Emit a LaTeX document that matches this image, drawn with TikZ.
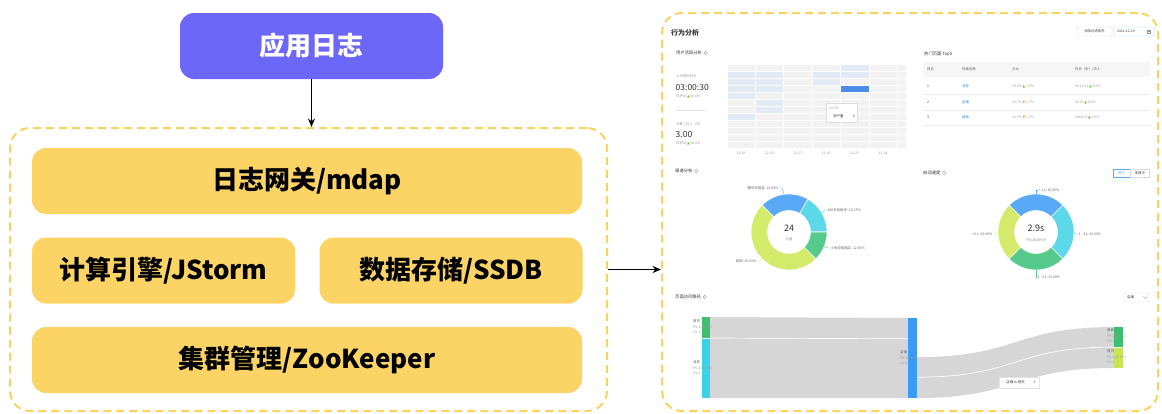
\documentclass[tikz,border=0pt]{standalone}
\usepackage{fontspec}
\setmainfont{Noto Sans CJK SC}
\newfontfamily\symfont{DejaVu Sans}
\usetikzlibrary{arrows.meta,positioning,calc,backgrounds}

\definecolor{appblue}{HTML}{6D67F9}
\definecolor{boxyellow}{HTML}{FCD465}
\definecolor{dashyellow}{HTML}{FAD35E}
\definecolor{segblue}{HTML}{5AA9F7}
\definecolor{segcyan}{HTML}{5CD8E9}
\definecolor{seggreen}{HTML}{55CA8B}
\definecolor{seglime}{HTML}{D4EA6B}
\definecolor{heatlight}{HTML}{E2EAF6}
\definecolor{heatgray}{HTML}{F2F2F2}
\definecolor{heatstrong}{HTML}{4C8DEA}
\definecolor{linkgray}{HTML}{D6D6D6}
\definecolor{txtdark}{HTML}{333333}
\definecolor{txtgray}{HTML}{999999}
\definecolor{upgreen}{HTML}{52C41A}
\definecolor{downorange}{HTML}{FA8C16}
\definecolor{linkblue}{HTML}{2F80D6}
\definecolor{barblue}{HTML}{3A9AF5}
\definecolor{bargreen}{HTML}{3CBF6F}
\definecolor{barcyan}{HTML}{38D3E7}
\definecolor{barlime}{HTML}{C9E552}

\newcommand{\upmark}{{\color{upgreen}\symfont ▲}}
\newcommand{\downmark}{{\color{downorange}\symfont ▼}}

\begin{document}
\begin{tikzpicture}[x=1pt, y=-1pt, >={Stealth[length=8.5pt, width=7pt]},
    layer/.style={fill=boxyellow, rounded corners=14pt, minimum height=66pt, inner sep=0pt, font=\bfseries\fontsize{26}{30}\selectfont},
    dashframe/.style={draw=dashyellow, line width=2pt, dash pattern=on 8pt off 5pt, rounded corners=20pt, inner sep=0pt},
    lbl/.style={inner sep=0pt, text=txtgray, font=\fontsize{3.4}{5.5}\selectfont},
    sec/.style={inner sep=0pt, anchor=west, text=txtdark, font=\fontsize{4.3}{5}\selectfont},
    info/.style={draw=txtgray, circle, inner sep=0pt, minimum size=3.6pt, line width=0.3pt, text=txtgray, font=\fontsize{2.6}{3}\selectfont},
    bar/.style={minimum width=8pt, inner sep=0pt, outer sep=0pt},
    bignum/.style={inner sep=0pt, text=txtdark, font=\fontsize{9}{10}\selectfont}]
\begin{scope}[on background layer]
  \fill[white] (0,0) rectangle (1162,413);
\end{scope}
\useasboundingbox (0,0) rectangle (1162,413);

% architecture
\node[fill=appblue, rounded corners=14pt, minimum width=263pt, minimum height=66pt, text=white,
      font=\bfseries\fontsize{26}{30}\selectfont] (app) at (311.5,46) {应用日志};
\node[dashframe, minimum width=597pt, minimum height=283pt] (platform) at (308.5,269.5) {};
\node[layer, minimum width=550pt] (gateway) at (307,181) {日志网关/mdap};
\node[layer, minimum width=263pt] (jstorm) at (163.5,270.5) {计算引擎/JStorm};
\node[layer, minimum width=263pt] (ssdb) at (451,270.5) {数据存储/SSDB};
\node[layer, minimum width=550pt] (zookeeper) at (307,360) {集群管理/ZooKeeper};
\node[dashframe, minimum width=496pt, minimum height=398pt] (dashboard) at (910,212) {};

\draw[->, line width=1.2pt] (app.south) -- (app.south |- platform.north);
\draw[->, line width=1.2pt] (platform.east) -- (platform.east -| dashboard.west);

% dashboard header
\node[anchor=west, inner sep=0pt, text=txtdark, font=\bfseries\fontsize{7}{8}\selectfont] (title) at (671,33) {行为分析};
\node[draw=gray!30, lbl, text=txtdark, minimum width=35pt, minimum height=9pt, rounded corners=1pt] (filter) at (1094.5,31.5) {添加过滤条件};
\node[draw=segblue!45, minimum width=41pt, minimum height=9pt, rounded corners=1pt, inner sep=0pt] (datebox) at (1134,31.5) {};
\node[lbl, text=txtdark, anchor=west] (datetext) at (1117,31.5) {2021-12-29};
\draw[txtgray, line width=0.35pt] (1147,29.8) rectangle (1150.5,33.3);
\draw[txtgray, line width=0.35pt] (1147,30.8) -- (1150.5,30.8);

% user activity
\node[sec] (active) at (676,53) {用户活跃分析};
\node[info, right=1.5pt of active] (activeinfo) {i};
\node[lbl, anchor=west] (durlabel) at (676,76) {人均使用时长};
\node[bignum, anchor=west, font=\fontsize{8.5}{10}\selectfont] (duration) at (675.5,87) {03:00:30};
\node[lbl, anchor=west] (durrate) at (676,96) {日环比 \upmark{} 60.6\%};
\draw[gray!25, line width=0.4pt] (676,110) -- (705,110);
\node[lbl, anchor=west] (cntlabel) at (676,124) {次数 / 日人（次）};
\node[bignum, anchor=west, font=\fontsize{8.5}{10}\selectfont] (count) at (675.5,134) {3.00};
\node[lbl, anchor=west] (cntrate) at (676,143) {日环比 \upmark{} 60.6\%};

\foreach \cx in {0,...,5}
  \foreach \ry in {0,...,11}
    \fill[heatgray] ({727.5+28.4*\cx},{64.5+7*\ry}) rectangle +(27.4,6);
\foreach \ry in {0,...,11}
  \fill[heatgray] (898.4,{64.5+7*\ry}) rectangle +(8,6);
\foreach \cx/\ry in {4/0,0/1,1/1,3/1,4/1,0/2,1/2,3/2,0/3,1/3,0/4,1/5,1/6,0/7}
  \fill[heatlight] ({727.5+28.4*\cx},{64.5+7*\ry}) rectangle +(27.4,6);
\fill[heatstrong] ({727.5+28.4*4},{64.5+7*3}) rectangle +(27.4,6);
\foreach \d [count=\i from 0] in {12-29,12-28,12-27,12-26,12-25,12-24}
  \node[lbl] (day\i) at ({741+28.4*\i},153) {\d};

\node[draw=gray!25, fill=white, minimum width=31pt, minimum height=19pt, inner sep=0pt] (heattip) at (841.5,112.5) {};
\node[lbl, anchor=west] (tipdate) at (829,108) {12-26};
\node[lbl, anchor=west, text=txtdark] (tipname) at (829,116.5) {{\color{heatstrong}·} 用户量};
\node[lbl, anchor=east, text=txtdark] (tipvalue) at (855,116.5) {0};

% top pages
\node[sec] (top5) at (924,54) {热门页面 Top5};
\fill[gray!7] (923,62) rectangle (1150,77);
\node[lbl, anchor=west, text=txtdark!80] (hrank) at (927,69.5) {排名};
\node[lbl, anchor=west, text=txtdark!80] (hpage) at (962,69.5) {页面名称};
\node[lbl, anchor=west, text=txtdark!80] (hpct) at (1012,69.5) {占比};
\node[lbl, anchor=west, text=txtdark!80] (htime) at (1075,69.5) {时长（秒）/次人};
\foreach \y/\rk/\pg/\pct/\tm [count=\i] in {
    86/1/消息/{33.3\% \upmark{} 2.9\%}/{60:12:21 \upmark{} 0.0\%},
    102/2/店铺/{16.7\% \downmark{} 1.7\%}/{00:00 \upmark{} 0.0\%},
    117/3/搜索/{16.7\% \downmark{} 1.7\%}/{4840.00 \upmark{} 0.0\%}} {
  \node[lbl, anchor=west, text=txtdark] (rank\i) at (927,\y) {\rk};
  \node[lbl, anchor=west, text=linkblue] (page\i) at (962,\y) {\pg};
  \node[lbl, anchor=west] (pct\i) at (1012,\y) {\pct};
  \node[lbl, anchor=west] (time\i) at (1075,\y) {\tm};
  \draw[gray!15, line width=0.4pt] (923,{\y+8}) -- (1150,{\y+8});
}

% channels
\node[sec] (channel) at (675,171) {渠道分布};
\node[info, right=1.5pt of channel] (channelinfo) {i};
\begin{scope}[shift={(789,232)}, yscale=-1]
  \foreach \a/\b/\col in {135/60/segblue, 60/0/segcyan, 0/-45/seggreen, -45/-225/seglime}
    \filldraw[fill=\col, draw=white, line width=0.6pt] (\a:38) arc[start angle=\a, end angle=\b, radius=38]
      -- (\b:21.5) arc[start angle=\b, end angle=\a, radius=21.5] -- cycle;
\end{scope}
\node[bignum] (total) at (789,228) {24};
\node[lbl] (totallabel) at (789,239.5) {总量};
\draw[segblue, line width=0.4pt] (784,194) -- (782,188) -- (779,188);
\node[lbl, anchor=east, text=txtdark!80] (tencent) at (778.5,188) {腾讯应用宝: 20.83\%};
\draw[segcyan, line width=0.4pt] (822,213) -- (825,210) -- (827,210);
\node[lbl, anchor=west, text=txtdark!80] (qihoo) at (827.5,210) {360手机助手: 16.67\%};
\draw[seggreen, line width=0.4pt] (824,246.5) -- (828,248) -- (830,248);
\node[lbl, anchor=west, text=txtdark!80] (xiaomi) at (830.5,248) {小米应用商店: 12.50\%};
\draw[seglime, line width=0.4pt] (762,259) -- (759,261) -- (757,261);
\node[lbl, anchor=east, text=txtdark!80] (others) at (756.5,261) {其他: 50.00\%};

% launch speed
\node[sec] (speed) at (923,173) {启动速度};
\node[info, right=1.5pt of speed] (speedinfo) {?};
\node[draw=segblue, lbl, text=segblue, minimum width=17pt, minimum height=8pt] (first) at (1121.5,173) {首次};
\node[draw=gray!30, lbl, text=txtdark, minimum width=19pt, minimum height=8pt, right=0pt of first] (notfirst) {非首次};
\begin{scope}[shift={(1036,232)}, yscale=-1]
  \foreach \a/\b/\col in {135/45/segblue, 45/-45/segcyan, -45/-135/seggreen, -135/-225/seglime}
    \filldraw[fill=\col, draw=white, line width=0.6pt] (\a:38) arc[start angle=\a, end angle=\b, radius=38]
      -- (\b:21.5) arc[start angle=\b, end angle=\a, radius=21.5] -- cycle;
\end{scope}
\node[bignum] (avgtime) at (1036,228) {2.9s};
\node[lbl] (avglabel) at (1036,240) {平均启动时间};
\draw[segblue, line width=0.4pt] (1036,194) -- (1036,190) -- (1038,190);
\node[lbl, anchor=west, text=txtdark!80] (fast) at (1038.5,190) {< 1 s: 25.00\%};
\draw[segcyan, line width=0.4pt] (1074,232) -- (1076,234) -- (1078,234);
\node[lbl, anchor=west, text=txtdark!80] (medium) at (1078.5,234) {1 - 3 s: 25.00\%};
\draw[seggreen, line width=0.4pt] (1036,270) -- (1036,277) -- (1037,277);
\node[lbl, anchor=west, text=txtdark!80] (slow) at (1037.5,277) {3 - 5 s: 25.00\%};
\draw[seglime, line width=0.4pt] (998,232) -- (995,234) -- (993,234);
\node[lbl, anchor=east, text=txtdark!80] (veryslow) at (992.5,234) {> 5 s: 25.00\%};

% page paths
\node[sec] (path) at (675,297) {页面访问路径};
\node[info, right=1.5pt of path] (pathinfo) {i};
\node[draw=gray!30, minimum width=25pt, minimum height=9pt, rounded corners=1pt, inner sep=0pt] (pagesel) at (1136.5,297.5) {};
\node[lbl, anchor=west, text=txtdark] (pageseltext) at (1127,297.5) {店铺};
\draw[txtgray, line width=0.35pt] (1143,296.5) -- (1145,298.5) -- (1147,296.5);

\node[bar, fill=bargreen, minimum height=21pt] (srchome) at (706,327.5) {};
\node[bar, fill=barcyan, minimum height=59pt] (srcmsg) at (706,368.5) {};
\node[bar, fill=barblue, minimum width=9pt, minimum height=80pt] (shop) at (912.5,358) {};
\node[bar, fill=bargreen, minimum width=9pt, minimum height=20pt] (dstsearch) at (1118.5,337) {};
\node[bar, fill=barlime, minimum width=9pt, minimum height=20pt] (dsthome) at (1118.5,358) {};

\begin{scope}[on background layer]
  \fill[linkgray] (srchome.north east) -- (shop.north west) -- (shop.south west) -- (srcmsg.south east) -- cycle;
  \draw[white, line width=0.7pt] (srchome.south east) -- ($(shop.north west)!0.26!(shop.south west)$);
  \coordinate (out1) at ($(shop.north east)!0.49!(shop.south east)$);
  \coordinate (out2) at ($(shop.north east)!0.74!(shop.south east)$);
  \fill[linkgray] (out1) .. controls +(100,0) and +(-100,0) .. (dstsearch.north west)
    -- (dsthome.south west) .. controls +(-100,0) and +(100,0) .. (shop.south east) -- cycle;
  \draw[white, line width=0.7pt] (out2) .. controls +(100,0) and +(-100,0) .. (dstsearch.south west);
\end{scope}

\node[lbl, anchor=north west, align=left] (homelabel) at (693,319.5) {{\color{txtdark!80}首页}\\PV:1(25.0\%)\\UV:1};
\node[lbl, anchor=north west, align=left] (msglabel) at (693,360.5) {{\color{txtdark!80}消息}\\PV:3(75.0\%)\\UV:1};
\node[lbl, anchor=north west, align=left] (shoplabel) at (900,350.5) {{\color{txtdark!80}店铺}\\PV:4(0.0\%)\\UV:1};
\node[lbl, anchor=north west, align=left] (searchlabel) at (1107,328.5) {{\color{txtdark!80}搜索}\\PV:1(25.0\%)\\UV:1};
\node[lbl, anchor=north west, align=left] (dsthomelabel) at (1107,349.5) {{\color{txtdark!80}首页}\\PV:1(25.0\%)\\UV:1};

\node[draw=gray!20, fill=white, minimum width=40pt, minimum height=11pt, inner sep=0pt] (linktip) at (1019,382.5) {};
\node[lbl, anchor=west, text=txtdark] (linktiptext) at (1002,382.5) {{\color{barblue}·} 店铺 to 首页};
\node[lbl, anchor=east, text=txtdark] (linktipvalue) at (1036,382.5) {1};
\end{tikzpicture}
\end{document}
